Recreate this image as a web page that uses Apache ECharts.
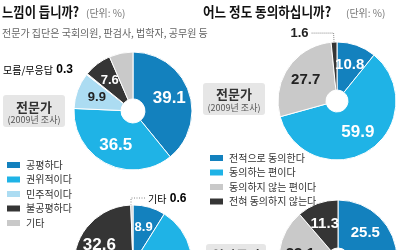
<!DOCTYPE html>
<html><head><meta charset="utf-8">
<script src="https://cdn.jsdelivr.net/npm/echarts@6/dist/echarts.min.js"></script>
<style>html,body{margin:0;padding:0;background:#fff}#c{width:400px;height:250px}</style>
</head><body><div id="c"></div>
<script>
// ---- data ----
const leftNames = ['공평하다','권위적이다','민주적이다','모름/무응답','불공평하다','기타'];
const leftExpert = [39.1, 36.5, 9.9, 0.3, 7.6, 6.5];
const leftPublic = [8.9, 49.5, 8.1, 0.3, 32.6, 0.6];
const leftLegend = ['공평하다','권위적이다','민주적이다','불공평하다','기타'];
const rightNames = ['전적으로 동의한다','동의하는 편이다','동의하지 않는 편이다','전혀 동의하지 않는다'];
const rightExpert = [10.8, 59.9, 27.7, 1.6];
const rightPublic = [25.5, 40.1, 23.1, 11.3];
const rightLegend = rightNames;
const titleLeft = '느낌이 듭니까?';
const titleRight = '어느 정도 동의하십니까?';
const unitText = '(단위: %)';
const noteText = '전문가 집단은 국회의원, 판검사, 법학자, 공무원 등';
const groupExpert = '전문가';
const yearExpert = '(2009년 조사)';
const groupPublic = '일반국민';

// ---- style ----
const KR = '"Noto Sans CJK KR","Noto Sans",sans-serif';
const NUM = '"Liberation Sans",Arial,sans-serif';
const C = {dblue:'#1381be', lblue:'#1fb3e6', pblue:'#acdcf2', dark:'#353535', gray:'#c9c9c9', white:'#ffffff'};
const leftColors = [C.dblue, C.lblue, C.pblue, C.white, C.dark, C.gray];
const rightColors = [C.dblue, C.lblue, C.gray, C.dark];
const lightFills = [C.pblue, C.gray];

function build(names, values, colors) {
  return values.map((v, i) => ({
    name: names[i], value: v,
    itemStyle: {color: colors[i]},
    label: {
      show: v >= 2,
      color: lightFills.includes(colors[i]) ? '#222' : '#fff',
      fontSize: v >= 30 ? 17 : (v >= 10 ? 15 : 13)
    }
  }));
}

function pie(center, r0, r1, data) {
  return {
    type: 'pie', center: center, radius: [r0, r1], startAngle: 90, clockwise: true,
    avoidLabelOverlap: false, silent: true, animation: false,
    itemStyle: {borderColor: '#fff', borderWidth: 1},
    label: {position: 'inside', fontFamily: NUM, fontWeight: 'bold', formatter: p => p.value.toFixed(1)},
    labelLine: {show: false},
    data: data
  };
}

const s2data = build(rightNames, rightExpert, rightColors);
s2data[3].label = {show: true, position: 'outside', color: '#222', fontSize: 13, fontWeight: 'bold',
  fontFamily: NUM, distanceToLabelLine: 3};
s2data[3].labelLine = {show: true, length: 9, length2: 22, smooth: false,
  lineStyle: {type: 'dotted', color: '#888', width: 1}};

const chart = echarts.init(document.getElementById('c'), null, {renderer: 'canvas'});
chart.setOption({
  animation: false,
  backgroundColor: '#fff',
  legend: [
    {left: 0, top: 153, orient: 'vertical', icon: 'rect', itemWidth: 15, itemHeight: 8, itemGap: 0.5,
     selectedMode: false, data: leftLegend,
     textStyle: {fontFamily: KR, fontSize: 10, color: '#333', lineHeight: 14}},
    {left: 203, top: 146, orient: 'vertical', icon: 'rect', itemWidth: 15, itemHeight: 8, itemGap: 0.5,
     selectedMode: false, data: rightLegend,
     textStyle: {fontFamily: KR, fontSize: 10, color: '#333', lineHeight: 14}}
  ],
  series: [
    pie([133, 111], 12, 59, build(leftNames, leftExpert, leftColors)),
    pie([337, 101], 11, 59, s2data),
    pie([133, 264], 12, 59, build(leftNames, leftPublic, leftColors)),
    pie([338, 259], 11, 59, build(rightNames, rightPublic, rightColors))
  ],
  graphic: [
    {type: 'text', x: 2, y: 5, scaleX: 0.88, style: {text: titleLeft, font: 'bold 14px ' + KR, fill: '#111', verticalAlign: 'top'}},
    {type: 'text', x: 86, y: 8, style: {text: unitText, font: '10px ' + KR, fill: '#777', verticalAlign: 'top'}},
    {type: 'text', x: 203, y: 5, scaleX: 0.9, style: {text: titleRight, font: 'bold 14px ' + KR, fill: '#111', verticalAlign: 'top'}},
    {type: 'text', x: 346, y: 8, style: {text: unitText, font: '10px ' + KR, fill: '#777', verticalAlign: 'top'}},
    {type: 'text', left: 2, top: 28, style: {text: noteText, font: '10px ' + KR, fill: '#666'}},
    {type: 'text', left: 3, top: 64, style: {
      text: '{a|' + leftNames[3] + '} {b|' + leftExpert[3].toFixed(1) + '}',
      rich: {a: {fontFamily: KR, fontSize: 10, color: '#333'},
             b: {fontFamily: NUM, fontSize: 12, fontWeight: 'bold', color: '#222'}}}},
    {type: 'rect', shape: {x: 3, y: 95, width: 62, height: 32, r: 3}, style: {fill: '#e6e6e6'}},
    {type: 'text', x: 34, y: 107, style: {text: groupExpert, font: 'bold 13px ' + KR, fill: '#333', align: 'center', verticalAlign: 'middle'}},
    {type: 'text', x: 34, y: 120, style: {text: yearExpert, font: '9px ' + KR, fill: '#555', align: 'center', verticalAlign: 'middle'}},
    {type: 'rect', shape: {x: 203, y: 83, width: 62, height: 32, r: 3}, style: {fill: '#e6e6e6'}},
    {type: 'text', x: 234, y: 94, style: {text: groupExpert, font: 'bold 13px ' + KR, fill: '#333', align: 'center', verticalAlign: 'middle'}},
    {type: 'text', x: 234, y: 108, style: {text: yearExpert, font: '9px ' + KR, fill: '#555', align: 'center', verticalAlign: 'middle'}},
    {type: 'rect', shape: {x: 206, y: 244, width: 60, height: 30, r: 3}, style: {fill: '#e6e6e6'}},
    {type: 'text', x: 236, y: 255, style: {text: groupPublic, font: 'bold 13px ' + KR, fill: '#333', align: 'center', verticalAlign: 'middle'}},
    {type: 'polyline', shape: {points: [[131, 205], [131, 198], [146, 198]]}, style: {stroke: '#888', lineWidth: 1, lineDash: [1, 1.5], fill: null}},
    {type: 'text', left: 148, top: 193, style: {
      text: '{a|' + leftNames[5] + '} {b|' + leftPublic[5].toFixed(1) + '}',
      rich: {a: {fontFamily: KR, fontSize: 10, color: '#333'},
             b: {fontFamily: NUM, fontSize: 12, fontWeight: 'bold', color: '#222'}}}}
  ]
});
</script></body></html>
